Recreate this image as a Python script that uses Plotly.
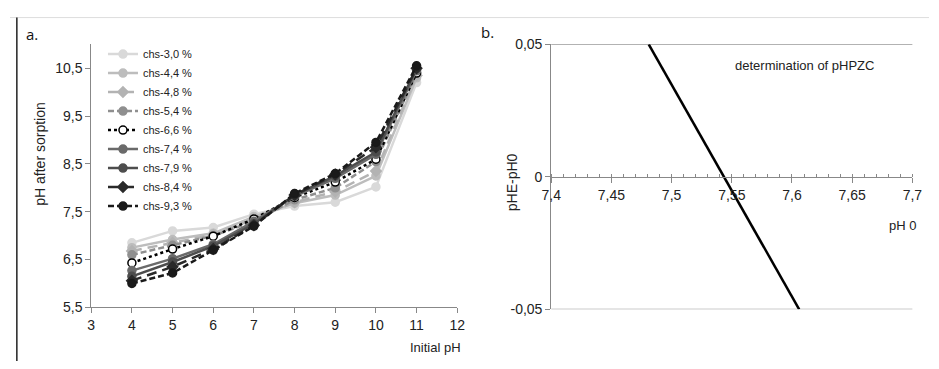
import plotly.graph_objects as go

initial_ph = [4, 5, 6, 7, 8, 9, 10, 11]
series_names = ["chs-3,0 %", "chs-4,4 %", "chs-4,8 %", "chs-5,4 %", "chs-6,6 %",
                "chs-7,4 %", "chs-7,9 %", "chs-8,4 %", "chs-9,3 %"]
chs_3_0 = [6.85, 7.10, 7.17, 7.45, 7.62, 7.70, 8.02, 10.20]
chs_4_4 = [6.75, 6.92, 7.05, 7.40, 7.68, 7.85, 8.25, 10.30]
chs_4_8 = [6.68, 6.85, 7.02, 7.35, 7.70, 7.92, 8.35, 10.35]
chs_5_4 = [6.60, 6.80, 7.00, 7.30, 7.75, 8.00, 8.55, 10.40]
chs_6_6 = [6.43, 6.72, 6.99, 7.35, 7.80, 8.12, 8.60, 10.40]
chs_7_4 = [6.27, 6.52, 6.82, 7.30, 7.82, 8.20, 8.70, 10.45]
chs_7_9 = [6.15, 6.45, 6.78, 7.25, 7.85, 8.25, 8.75, 10.50]
chs_8_4 = [6.06, 6.35, 6.72, 7.22, 7.85, 8.28, 8.85, 10.50]
chs_9_3 = [6.00, 6.22, 6.70, 7.20, 7.88, 8.30, 8.95, 10.55]
series_values = [chs_3_0, chs_4_4, chs_4_8, chs_5_4, chs_6_6, chs_7_4, chs_7_9, chs_8_4, chs_9_3]

ph0 = [7.481, 7.606]
phe_minus_ph0 = [0.05, -0.05]

a_yticks = [5.5, 6.5, 7.5, 8.5, 9.5, 10.5]
a_yticklabels = ["5,5", "6,5", "7,5", "8,5", "9,5", "10,5"]
a_xticks = [3, 4, 5, 6, 7, 8, 9, 10, 11, 12]
b_xticks = [7.4, 7.45, 7.5, 7.55, 7.6, 7.65, 7.7]
b_xticklabels = ["7,4", "7,45", "7,5", "7,55", "7,6", "7,65", "7,7"]
b_yticks = [-0.05, 0, 0.05]
b_yticklabels = ["-0,05", "0", "0,05"]
b_gridlines = [-0.05, 0.05]

styles = [
    dict(color="#d9d9d9", dash="solid", symbol="circle", mfill="#d9d9d9"),
    dict(color="#bdbdbd", dash="solid", symbol="circle", mfill="#bdbdbd"),
    dict(color="#b3b3b3", dash="10px,6px", symbol="diamond", mfill="#b3b3b3"),
    dict(color="#8f8f8f", dash="6px,3px", symbol="circle", mfill="#8f8f8f"),
    dict(color="#000000", dash="dot", symbol="circle", mfill="#ffffff"),
    dict(color="#6a6a6a", dash="solid", symbol="circle", mfill="#6a6a6a"),
    dict(color="#4d4d4d", dash="solid", symbol="circle", mfill="#4d4d4d"),
    dict(color="#2a2a2a", dash="10px,6px", symbol="diamond", mfill="#2a2a2a"),
    dict(color="#1a1a1a", dash="6px,3px", symbol="circle", mfill="#1a1a1a"),
]

SANS = "Liberation Sans, Arial, sans-serif"

fig = go.Figure()
for name, vals, st in zip(series_names, series_values, styles):
    fig.add_trace(go.Scatter(
        x=initial_ph, y=vals, name=name, mode="lines+markers",
        line=dict(color=st["color"], width=2.5, dash=st["dash"]),
        marker=dict(symbol=st["symbol"], size=8, color=st["mfill"],
                    line=dict(color=st["color"], width=1.5)),
        xaxis="x", yaxis="y",
    ))

fig.add_trace(go.Scatter(
    x=ph0, y=phe_minus_ph0, mode="lines", showlegend=False,
    line=dict(color="black", width=2.5), xaxis="x2", yaxis="y2",
))

ya_dom = [1 - 313 / 369, 1 - 38 / 369]
yb_dom = [1 - 315 / 369, 1 - 38 / 369]

fig.update_layout(
    width=939, height=369,
    margin=dict(l=0, r=0, t=0, b=0),
    paper_bgcolor="white", plot_bgcolor="white",
    separators=", ",
    font=dict(family=SANS, size=12, color="#222"),
    xaxis=dict(domain=[83 / 939, 457 / 939], range=[3, 12], tickvals=a_xticks,
               showgrid=False, zeroline=False, showline=True, linecolor="#888",
               linewidth=1, ticks="outside", ticklen=5, tickcolor="#888",
               tickfont=dict(family=SANS, size=14, color="#222"), anchor="y"),
    yaxis=dict(domain=ya_dom, range=[5.5, 11], tickvals=a_yticks, ticktext=a_yticklabels,
               showgrid=False, zeroline=False, showline=True, linecolor="#888",
               linewidth=1, ticks="outside", ticklen=5, tickcolor="#888",
               tickfont=dict(family=SANS, size=14, color="#222"), anchor="x"),
    xaxis2=dict(domain=[553 / 939, 922 / 939], range=[7.4, 7.7], tickvals=b_xticks,
                ticktext=b_xticklabels, showgrid=False, zeroline=False, showline=True,
                linecolor="#888", linewidth=1, ticks="outside", ticklen=5, tickcolor="#888",
                minor=dict(dtick=0.01, tick0=7.4, ticks="inside", ticklen=3, tickcolor="#888"),
                anchor="free", position=(yb_dom[0] + yb_dom[1]) / 2,
                tickfont=dict(family=SANS, size=14, color="#222")),
    yaxis2=dict(domain=yb_dom, range=[-0.05, 0.05], tickvals=b_yticks, ticktext=b_yticklabels,
                showgrid=False, zeroline=False, showline=True,
                linecolor="#888", linewidth=1, ticks="outside", ticklen=5, tickcolor="#888",
                tickfont=dict(family=SANS, size=14, color="#222"), anchor="x2"),
    legend=dict(x=95 / 939, y=1 - 33 / 369, xanchor="left", yanchor="top",
                bgcolor="rgba(0,0,0,0)", font=dict(family=SANS, size=11, color="#222"),
                tracegroupgap=0),
    showlegend=True,
)

annotations = [
    dict(text="a.", x=14 / 939, y=1 - 27 / 369, xanchor="left", yanchor="middle",
         font=dict(family="Open Sans, sans-serif", size=15, color="#111")),
    dict(text="b.", x=479 / 939, y=1 - 25 / 369, xanchor="left", yanchor="middle",
         font=dict(family="Open Sans, sans-serif", size=15, color="#111")),
    dict(text="pH after sorption", x=31 / 939, y=1 - 152 / 369, textangle=-90,
         xanchor="center", yanchor="middle", font=dict(family=SANS, size=14, color="#222")),
    dict(text="Initial pH", x=463 / 939, y=1 - 355 / 369, xanchor="right", yanchor="middle",
         font=dict(family=SANS, size=13, color="#222")),
    dict(text="pHE-pH0", x=513 / 939, y=1 - 182 / 369, textangle=-90,
         xanchor="center", yanchor="middle", font=dict(family=SANS, size=14, color="#222")),
    dict(text="pH 0", x=928 / 939, y=1 - 227 / 369, xanchor="right", yanchor="middle",
         font=dict(family=SANS, size=13, color="#222")),
    dict(text="determination of pHPZC", x=885 / 939, y=1 - 60 / 369, xanchor="right", yanchor="middle",
         font=dict(family=SANS, size=13, color="#222")),
]
for a in annotations:
    a.update(xref="paper", yref="paper", showarrow=False)
fig.update_layout(annotations=annotations)

shapes = [
    dict(type="line", xref="paper", yref="paper", x0=0, x1=1, y0=1 - 10 / 369, y1=1 - 10 / 369,
         line=dict(color="#dddddd", width=1)),
    dict(type="line", xref="paper", yref="paper", x0=7 / 939, x1=7 / 939, y0=0, y1=1 - 10 / 369,
         line=dict(color="#222", width=1.5)),
]
for g in b_gridlines:
    shapes.append(dict(type="line", xref="x2 domain", yref="y2", x0=0, x1=1, y0=g, y1=g,
                       line=dict(color="#999", width=1.2), layer="below"))
fig.update_layout(shapes=shapes)

fig.write_html("out.html", config={"displayModeBar": False},
               post_script="document.body.style.margin='0';document.body.style.overflow='hidden';")
